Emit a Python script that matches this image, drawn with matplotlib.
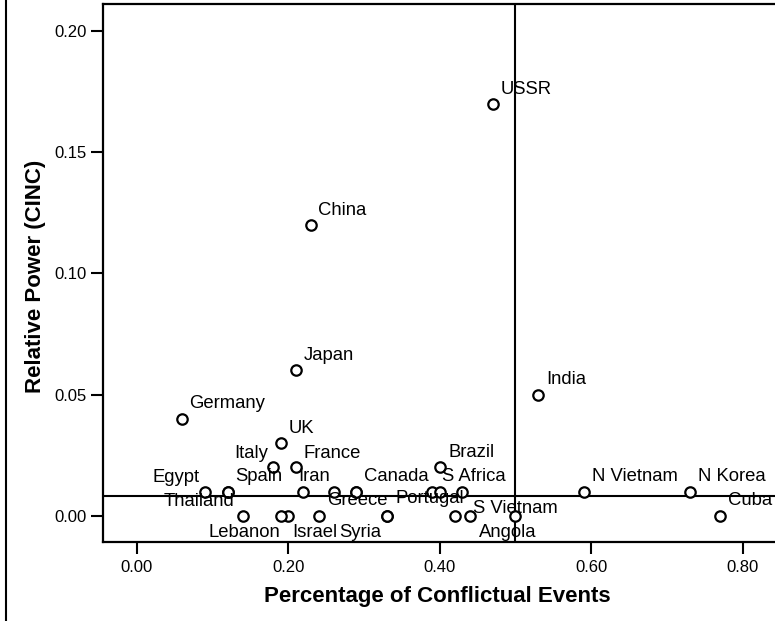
import numpy as np
import matplotlib
matplotlib.use('Agg')
import matplotlib.pyplot as plt
from matplotlib.lines import Line2D

plt.rcParams['font.family'] = ['Liberation Sans', 'DejaVu Sans']

# countries with their label
countries = ['USSR', 'China', 'Japan', 'India', 'Germany', 'UK', 'Italy', 'France',
             'Brazil', 'Egypt', 'Spain', 'Thailand', 'Iran', 'Canada', 'Greece',
             'S Africa', 'Portugal', 'N Vietnam', 'N Korea', 'Lebanon', 'Israel',
             'Syria', 'S Vietnam', 'Angola', 'Cuba']
conflict = [0.47, 0.23, 0.21, 0.53, 0.06, 0.19, 0.18, 0.21,
            0.40, 0.09, 0.12, 0.12, 0.22, 0.29, 0.29,
            0.39, 0.40, 0.59, 0.73, 0.14, 0.20,
            0.24, 0.44, 0.50, 0.77]
cinc = [0.17, 0.12, 0.06, 0.05, 0.04, 0.03, 0.02, 0.02,
        0.02, 0.01, 0.01, 0.01, 0.01, 0.01, 0.01,
        0.01, 0.01, 0.01, 0.01, 0.00, 0.00,
        0.00, 0.00, 0.00, 0.00]

# points whose labels are not shown
conflict_nolabel = [0.26, 0.43, 0.19, 0.33, 0.33, 0.42]
cinc_nolabel = [0.01, 0.01, 0.00, 0.00, 0.00, 0.00]

# reference lines
x_ref = 0.50
y_ref = 0.008

# label offsets in pixels (left edge, baseline) from the point
label_offsets = [(8.3, 9.6), (7.4, 9.8), (7.5, 10.3), (8.4, 10.3), (7.2, 10.4),
                 (8.4, 10.3), (-38.4, 8.9), (7.9, 8.9), (8.6, 9.9), (-52.6, 9.8),
                 (7.4, 10.5), (-64.3, -14.5), (-5.0, 10.5), (7.6, 10.8), (-29.7, -13.5),
                 (9.6, 10.8), (-44.7, -11.8), (8.7, 10.5), (8.6, 10.5), (-34.4, -21.6),
                 (4.1, -21.3), (20.8, -21.3), (2.7, 3.0), (-36.5, -21.6), (8.3, 10.7)]

W, H = 775, 621
fig = plt.figure(figsize=(W / 100, H / 100), dpi=100)
ax = fig.add_axes([103 / W, (H - 541.7) / H, (W - 103) / W, (541.7 - 4) / H])

ax.plot(conflict, cinc, 'o', ms=7.5, mfc='white', mec='black', mew=1.6, ls='none', zorder=3)
ax.plot(conflict_nolabel, cinc_nolabel, 'o', ms=7.5, mfc='white', mec='black', mew=1.6,
        ls='none', zorder=3)

ax.axvline(x_ref, color='black', lw=1.5, zorder=2)
ax.axhline(y_ref, color='black', lw=1.5, zorder=2)

for name, x, y, (dx, dy) in zip(countries, conflict, cinc, label_offsets):
    ax.annotate(name, (x, y), xytext=(dx, dy), textcoords='offset pixels',
                ha='left', va='baseline', fontsize=13.3, zorder=4)

ax.set_xlim(-0.0445, 0.8426)
ax.set_ylim(-0.0107, 0.2111)
ax.set_xticks(np.arange(0, 0.81, 0.2))
ax.set_yticks(np.arange(0, 0.201, 0.05))
ax.xaxis.set_major_formatter(matplotlib.ticker.FormatStrFormatter('%.2f'))
ax.yaxis.set_major_formatter(matplotlib.ticker.FormatStrFormatter('%.2f'))
ax.tick_params(direction='out', length=8.5, width=1.5, labelsize=12, pad=3)
ax.tick_params(axis='x', pad=5)

for side in ['left', 'bottom', 'top']:
    ax.spines[side].set_linewidth(1.6)
ax.spines['right'].set_visible(False)

fig.text(437 / W, 1 - 601.7 / H, 'Percentage of Conflictual Events', ha='center',
         va='baseline', fontsize=16, fontweight='bold')
fig.text(35.5 / W, 1 - 276.5 / H, 'Relative Power (CINC)', ha='center', va='center',
         rotation=90, fontsize=16, fontweight='bold')

# chart border on the left
fig.add_artist(Line2D([6 / W, 6 / W], [0, 1], transform=fig.transFigure, color='black', lw=1.5))

plt.savefig('out.png', dpi=100)
